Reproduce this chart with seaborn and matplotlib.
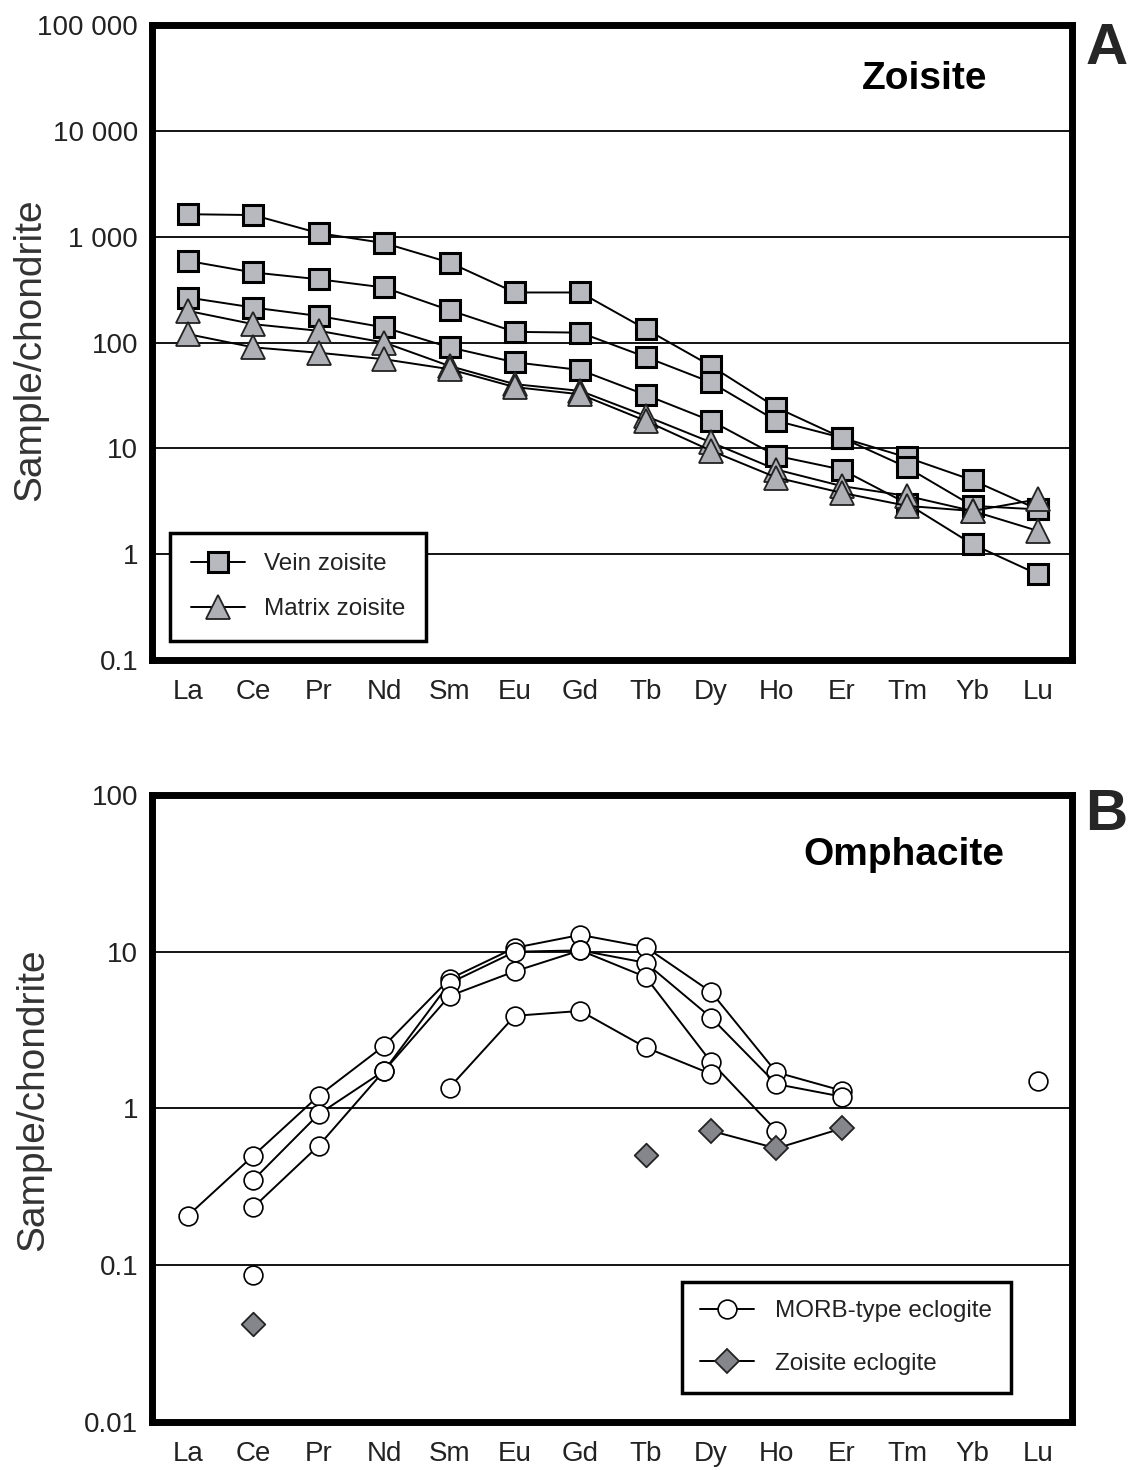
import numpy as np
import pandas as pd
import matplotlib
matplotlib.use("Agg")
import matplotlib.pyplot as plt
from matplotlib.lines import Line2D
from matplotlib.ticker import FixedLocator, FixedFormatter, NullLocator
import seaborn as sns

nan = np.nan

# ---------------- data ----------------
elements = ["La", "Ce", "Pr", "Nd", "Sm", "Eu", "Gd", "Tb", "Dy", "Ho", "Er", "Tm", "Yb", "Lu"]

# Panel A : zoisite (sample/chondrite)
vein_1 = [1630, 1600, 1080, 870, 570, 297, 297, 134, 60, 24.3, 12.6, 8.2, 5.0, 2.65]
vein_2 = [590, 459, 396, 331, 202, 126, 124, 73, 42, 18.2, 12.6, 6.6, 2.86, 2.65]
vein_3 = [266, 214, 178, 139, 90, 65, 55, 32, 18.2, 8.5, 6.3, 3.0, 1.24, 0.645]
matrix_1 = [199, 149, 129, 100, 60, 40.4, 34.9, 20.2, 11.4, 6.3, 4.4, 3.55, 2.56, 3.3]
matrix_2 = [120, 90, 80, 69.5, 56, 37.9, 32.4, 18.2, 9.5, 5.3, 3.8, 2.86, 2.56, 1.66]

# Panel B : omphacite (sample/chondrite)
morb_1 = [0.207, 0.50, 1.205, 2.51, 6.7, 10.6, 12.8, 10.7, 5.54, 1.70, 1.30, nan, nan, nan]
morb_2 = [nan, 0.35, 0.92, 1.74, 6.3, 10.0, 10.2, 8.5, 3.8, 1.43, 1.19, nan, nan, nan]
morb_3 = [nan, 0.234, 0.579, 1.74, 5.22, 7.5, 10.2, 6.9, 1.98, 0.72, nan, nan, nan, nan]
morb_4 = [nan, nan, nan, nan, 1.36, 3.9, 4.19, 2.45, 1.66, nan, nan, nan, nan, nan]
morb_single = [nan, 0.086, nan, nan, nan, nan, nan, nan, nan, nan, nan, nan, nan, 1.5]
zo_ecl_line = [nan, nan, nan, nan, nan, nan, nan, nan, 0.72, 0.556, 0.746, nan, nan, nan]
zo_ecl_single = [nan, 0.042, nan, nan, nan, nan, nan, 0.507, nan, nan, nan, nan, nan, nan]

labels_A = ["Vein zoisite", "Matrix zoisite"]
labels_B = ["MORB-type eclogite", "Zoisite eclogite"]
yticks_A = [0.1, 1, 10, 100, 1000, 10000, 100000]
yticklabels_A = ["0.1", "1", "10", "100", "1 000", "10 000", "100 000"]
yticks_B = [0.01, 0.1, 1, 10, 100]
yticklabels_B = ["0.01", "0.1", "1", "10", "100"]


def long_form(series):
    rows = []
    for name, vals in series.items():
        for i, v in enumerate(vals):
            if not np.isnan(v):
                rows.append({"series": name, "pos": i, "element": elements[i], "value": v})
    return pd.DataFrame(rows)


df_vein = long_form({"v1": vein_1, "v2": vein_2, "v3": vein_3})
df_matrix = long_form({"m1": matrix_1, "m2": matrix_2})
df_morb = long_form({"o1": morb_1, "o2": morb_2, "o3": morb_3, "o4": morb_4})
df_morb_single = long_form({"os": morb_single})
df_zo_line = long_form({"z1": zo_ecl_line})
df_zo_single = long_form({"zs": zo_ecl_single})

# ---------------- style ----------------
sns.set_style("white")
plt.rcParams["font.family"] = ["Liberation Sans", "DejaVu Sans"]

SQ_FILL = "#b7b9bf"
TRI_FILL = "#aeb0b6"
DIA_FILL = "#84868c"
TXT = "#222222"

fig = plt.figure(figsize=(11.31, 14.70), dpi=100)
axA = fig.add_axes([0.1344, 0.551, 0.8134, 0.4320])
axB = fig.add_axes([0.1344, 0.0327, 0.8134, 0.4265])

for ax in (axA, axB):
    ax.set_yscale("log")

# ---------------- panel A ----------------
sns.lineplot(data=df_vein, x="pos", y="value", units="series", estimator=None, sort=False,
             color="black", lw=1.4, marker="s", markersize=15, markerfacecolor=SQ_FILL,
             markeredgecolor="black", markeredgewidth=2.2, legend=False, ax=axA, zorder=3)
sns.lineplot(data=df_matrix, x="pos", y="value", units="series", estimator=None, sort=False,
             color="black", lw=1.4, marker="^", markersize=17, markerfacecolor=TRI_FILL,
             markeredgecolor="#222222", markeredgewidth=1.3, legend=False, ax=axA, zorder=3)

# ---------------- panel B ----------------
sns.lineplot(data=df_morb, x="pos", y="value", units="series", estimator=None, sort=False,
             color="black", lw=1.4, marker="o", markersize=13.5, markerfacecolor="white",
             markeredgecolor="black", markeredgewidth=1.2, legend=False, ax=axB, zorder=3)
sns.scatterplot(data=df_morb_single, x="pos", y="value", marker="o", s=13.5 ** 2,
                facecolor="white", edgecolor="black", linewidth=1.2, legend=False, ax=axB, zorder=3)
sns.lineplot(data=df_zo_line, x="pos", y="value", units="series", estimator=None, sort=False,
             color="black", lw=1.4, marker="D", markersize=12, markerfacecolor=DIA_FILL,
             markeredgecolor="#222222", markeredgewidth=1.3, legend=False, ax=axB, zorder=3)
sns.scatterplot(data=df_zo_single, x="pos", y="value", marker="D", s=12 ** 2,
                facecolor=DIA_FILL, edgecolor="#222222", linewidth=1.3, legend=False, ax=axB, zorder=3)

# ---------------- axes cosmetics ----------------
for ax, yt, ytl, ylim in ((axA, yticks_A, yticklabels_A, (0.1, 1e5)),
                          (axB, yticks_B, yticklabels_B, (0.01, 100))):
    ax.set_ylim(*ylim)
    ax.set_xlim(-0.55, 13.52)
    ax.yaxis.set_major_locator(FixedLocator(yt))
    ax.yaxis.set_major_formatter(FixedFormatter(ytl))
    ax.yaxis.set_minor_locator(NullLocator())
    ax.set_xticks(range(len(elements)))
    ax.set_xticklabels(elements)
    ax.set_xlabel("")
    ax.set_ylabel("")
    ax.grid(axis="y", color="black", lw=1.3)
    ax.grid(axis="x", visible=False)
    ax.set_axisbelow(True)
    for s in ax.spines.values():
        s.set_linewidth(5)
        s.set_color("black")
    ax.tick_params(axis="both", which="major", direction="out", length=6, width=2,
                   labelsize=20, labelcolor=TXT, color="black")
    ax.tick_params(axis="x", pad=8)
    ax.tick_params(axis="y", pad=4)

# titles & letters
axA.text(0.84, 0.915, "Zoisite", transform=axA.transAxes, fontsize=28, fontweight="bold",
         ha="center", va="center", color="black")
axB.text(0.817, 0.905, "Omphacite", transform=axB.transAxes, fontsize=28, fontweight="bold",
         ha="center", va="center", color="black")
fig.text(0.978, 0.967, "A", fontsize=42, fontweight="bold", ha="center", va="center")
fig.text(0.978, 0.4456, "B", fontsize=42, fontweight="bold", ha="center", va="center")
fig.text(0.027, 0.762, "Sample/chondrite", rotation=90, fontsize=28, ha="center", va="center", color="#333333")
fig.text(0.029, 0.252, "Sample/chondrite", rotation=90, fontsize=28, ha="center", va="center", color="#333333")

# legends
hA = [Line2D([0], [0], color="black", lw=1.4, marker="s", markersize=15, markerfacecolor=SQ_FILL,
             markeredgecolor="black", markeredgewidth=2.2),
      Line2D([0], [0], color="black", lw=1.4, marker="^", markersize=17, markerfacecolor=TRI_FILL,
             markeredgecolor="#222222", markeredgewidth=1.3)]
legA = axA.legend(hA, labels_A, loc="lower left", bbox_to_anchor=(0.02, 0.03), frameon=True,
                  fancybox=False, edgecolor="black", framealpha=1, fontsize=17.5, handlelength=2.2,
                  borderaxespad=0, borderpad=0.85, labelspacing=0.95, handletextpad=0.8)
legA.get_frame().set_linewidth(2.5)
for t in legA.get_texts():
    t.set_color(TXT)

hB = [Line2D([0], [0], color="black", lw=1.4, marker="o", markersize=13.5, markerfacecolor="white",
             markeredgecolor="black", markeredgewidth=1.2),
      Line2D([0], [0], color="black", lw=1.4, marker="D", markersize=12, markerfacecolor=DIA_FILL,
             markeredgecolor="#222222", markeredgewidth=1.3)]
legB = axB.legend(hB, labels_B, loc="lower left", bbox_to_anchor=(0.576, 0.046), frameon=True,
                  fancybox=False, edgecolor="black", framealpha=1, fontsize=17.5, handlelength=2.2,
                  borderaxespad=0, borderpad=0.75, labelspacing=1.25, handletextpad=0.9)
legB.get_frame().set_linewidth(2.5)
for t in legB.get_texts():
    t.set_color(TXT)

fig.savefig("out.png", dpi=100, facecolor="white")
